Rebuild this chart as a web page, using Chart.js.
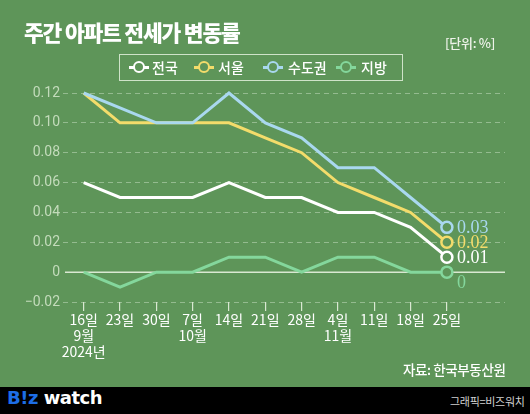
<!DOCTYPE html>
<html><head><meta charset="utf-8">
<script src="https://cdn.jsdelivr.net/npm/chart.js@4"></script>
<style>
html,body{margin:0;padding:0;}
body{width:530px;height:414px;background:#5e9559;position:relative;overflow:hidden;font-family:"Noto Sans CJK KR","Noto Sans",sans-serif;}
#wrap{position:absolute;left:0;top:0;width:530px;height:414px;}
.t{position:absolute;white-space:nowrap;}
#title{left:24px;top:16px;font-size:21.5px;font-weight:900;color:#fff;letter-spacing:-1.2px;}
#unit{left:445px;top:33px;font-size:13px;font-weight:500;color:#eef3ea;letter-spacing:-0.3px;}
#legend{position:absolute;left:119px;top:54px;width:284px;height:27px;border:1px solid #cfe3c9;box-sizing:border-box;}
.li{position:absolute;top:3px;font-size:14px;font-weight:500;color:#fff;line-height:18px;}
.mk{position:absolute;top:11px;width:20px;height:3px;}
.mk i{position:absolute;left:4px;top:-5px;width:8px;height:8px;border-radius:50%;border:2.5px solid;background:#5e9559;}
#src{left:403px;top:359px;font-size:13.5px;font-weight:500;color:#fff;letter-spacing:-0.4px;}
#foot{position:absolute;left:0;top:387px;width:530px;height:27px;background:#000;}
#logo{left:7px;top:0px;font-size:18px;font-weight:bold;color:#fff;font-family:"DejaVu Sans","Noto Sans",sans-serif;letter-spacing:-0.5px;}
#logo b{color:#1d6ee6;}
#gfx{left:450px;top:6px;font-size:11px;color:#d0d0d0;letter-spacing:-0.3px;}
</style></head>
<body>
<div id="wrap"><canvas id="c" width="530" height="414"></canvas></div>
<div class="t" id="title">주간 아파트 전세가 변동률</div>
<div class="t" id="unit">[단위: %]</div>
<div id="legend"></div>
<div class="t" id="src">자료: 한국부동산원</div>
<div id="foot">
  <div class="t" id="logo"><b>B!z</b> watch</div>
  <div class="t" id="gfx">그래픽=비즈워치</div>
</div>
<script>
const days = ['16일','23일','30일','7일','14일','21일','28일','4일','11일','18일','25일'];
const months = ['9월','','','10월','','','','11월','','',''];
const years = ['2024년','','','','','','','','','',''];
const seriesNames = ['전국','서울','수도권','지방'];
const nationwide = [0.06,0.05,0.05,0.05,0.06,0.05,0.05,0.04,0.04,0.03,0.01];
const seoul      = [0.12,0.10,0.10,0.10,0.10,0.09,0.08,0.06,0.05,0.04,0.02];
const capital    = [0.12,0.11,0.10,0.10,0.12,0.10,0.09,0.07,0.07,0.05,0.03];
const provinces  = [0.00,-0.01,0.00,0.00,0.01,0.01,0.00,0.01,0.01,0.00,0.00];
const yTicks = [-0.02,0,0.02,0.04,0.06,0.08,0.10,0.12];
const endLabels = ['0.01','0.02','0.03','0'];

const colors = ['#ffffff','#f3dc6b','#a9d8ef','#84d79c'];
const BG = '#5e9559';
const allSeries = [nationwide, seoul, capital, provinces];

// HTML legend
const legPos = [[9,32],[74,98],[143,168],[216,241]];
const leg = document.getElementById('legend');
seriesNames.forEach((n,i)=>{
  const m = document.createElement('div');
  m.className='mk'; m.style.left=legPos[i][0]+'px'; m.style.background=colors[i];
  const c = document.createElement('i'); c.style.borderColor=colors[i]; m.appendChild(c);
  leg.appendChild(m);
  const s = document.createElement('div');
  s.className='li'; s.style.left=legPos[i][1]+'px'; s.textContent=n;
  leg.appendChild(s);
});

const n = days.length;
const datasets = allSeries.map((arr,i)=>({
  label: seriesNames[i],
  data: arr.map((v,k)=>({x:k,y:v})),
  borderColor: colors[i],
  backgroundColor: BG,
  borderWidth: 3,
  pointRadius: arr.map((v,k)=>k===n-1?5.5:0),
  pointBorderWidth: 2.5,
  pointBorderColor: colors[i],
  pointBackgroundColor: BG,
  tension: 0,
  clip: false,
  order: 4-i
}));

const overlay = {
  id:'overlay',
  beforeDatasetsDraw(chart){
    const {ctx, chartArea, scales} = chart;
    const y0 = scales.y.getPixelForValue(0);
    ctx.save();
    ctx.strokeStyle = '#d9e8d2';
    ctx.lineWidth = 1.5;
    ctx.beginPath();
    ctx.moveTo(chartArea.left+2, y0);
    ctx.lineTo(chartArea.right, y0);
    ctx.stroke();
    ctx.restore();
  },
  afterDatasetsDraw(chart){
    const {ctx, scales} = chart;
    const offs = [0,0,0,10];
    ctx.save();
    ctx.font = '18px "Liberation Serif", serif';
    ctx.textBaseline = 'middle';
    ctx.textAlign = 'left';
    allSeries.forEach((arr,i)=>{
      const x = scales.x.getPixelForValue(n-1) + 10;
      const y = scales.y.getPixelForValue(arr[n-1]) + offs[i] + 1;
      ctx.fillStyle = colors[i];
      ctx.fillText(endLabels[i], x, y);
    });
    ctx.restore();
  }
};

new Chart(document.getElementById('c'), {
  type:'line',
  data:{datasets},
  plugins:[overlay],
  options:{
    responsive:false,
    animation:false,
    events:[],
    layout:{padding:{top:93,right:25,left:0,bottom:0}},
    plugins:{legend:{display:false},tooltip:{enabled:false},title:{display:false}},
    scales:{
      x:{
        type:'linear',
        min:-0.57, max:11.6,
        afterBuildTicks(s){ s.ticks = days.map((d,i)=>({value:i})); },
        afterFit(s){ s.height = 112; },
        border:{display:false},
        grid:{drawOnChartArea:false, drawTicks:true, tickLength:9, color:'#d9e8d2', lineWidth:1.2},
        ticks:{
          color:'#ffffff', padding:1, maxRotation:0, autoSkip:false,
          font:{family:'"Noto Sans CJK KR", sans-serif', size:14, lineHeight:1.14},
          callback(v){ const i=Math.round(v); return [days[i], months[i], years[i]].filter(s=>s!==''); }
        }
      },
      y:{
        min:-0.02, max:0.12,
        afterBuildTicks(s){ s.ticks = yTicks.map(v=>({value:v})); },
        afterFit(s){ s.width = 63; },
        border:{display:false, dash:[5,4]},
        grid:{drawTicks:false, color:(c)=>Math.abs(c.tick.value)<1e-9?'rgba(0,0,0,0)':'rgba(215,232,208,0.45)', lineWidth:1},
        ticks:{
          color:'#c3dbbb', padding:3,
          font:{family:'Roboto, "Noto Sans", sans-serif', size:14},
          callback(v){ if(Math.abs(v)<1e-9) return '0'; return v<0 ? '\u2212'+Math.abs(v).toFixed(2) : v.toFixed(2); }
        }
      }
    }
  }
});
</script>
</body></html>
